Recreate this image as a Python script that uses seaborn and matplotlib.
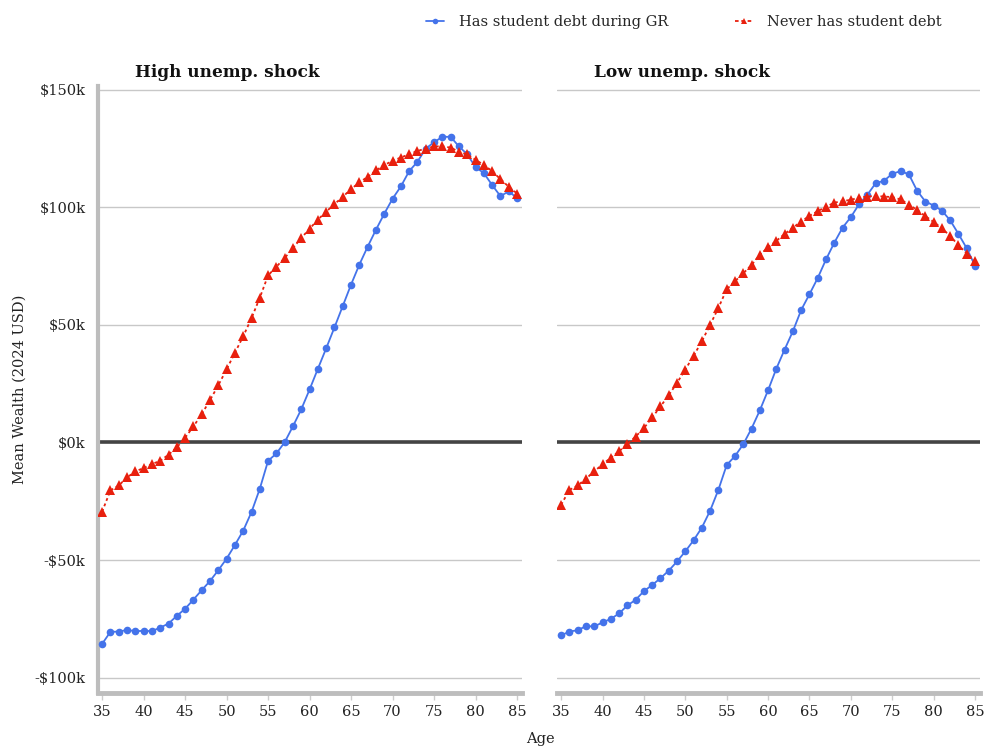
import numpy as np
import pandas as pd
import matplotlib
matplotlib.use("Agg")
import matplotlib.pyplot as plt
import seaborn as sns
from matplotlib.ticker import FuncFormatter
from matplotlib.lines import Line2D

sns.set_style("white")
plt.rcParams['font.family'] = ['DejaVu Serif']

ages = list(range(35, 86))
panels = ["High unemp. shock", "Low unemp. shock"]
series = ["Has student debt during GR", "Never has student debt"]

high_debt = [-85.6, -80.5, -80.4, -79.7, -80.2, -80.1, -80.2, -78.7, -77.0, -73.7,
             -70.7, -66.8, -62.8, -58.9, -54.3, -49.4, -43.6, -37.5, -29.6, -19.7,
             -7.8, -4.7, 0.1, 6.9, 14.1, 22.5, 31.3, 40.0, 48.9, 58.0,
             67.1, 75.6, 83.2, 90.4, 97.2, 103.6, 108.8, 115.3, 119.3, 124.9,
             127.6, 129.9, 129.9, 125.8, 122.5, 117.0, 114.5, 109.4, 104.7, 106.7, 103.9]
high_never = [-29.4, -20.4, -18.3, -14.9, -12.3, -10.9, -9.2, -7.8, -5.2, -2.1,
              2.0, 6.8, 12.0, 18.0, 24.3, 31.1, 38.1, 45.1, 52.8, 61.5,
              71.0, 74.7, 78.4, 82.6, 86.9, 90.8, 94.7, 98.1, 101.3, 104.4,
              107.7, 110.5, 112.9, 115.6, 117.9, 119.7, 121.1, 122.5, 123.9, 124.9,
              125.8, 125.9, 125.3, 123.6, 122.4, 120.1, 118.0, 115.3, 111.9, 108.7, 105.8]
low_debt = [-82.0, -80.4, -79.8, -78.1, -78.2, -76.5, -75.0, -72.7, -69.3, -66.9,
            -63.2, -60.6, -57.7, -54.5, -50.6, -46.3, -41.6, -36.2, -29.0, -20.1,
            -9.6, -5.8, -0.8, 5.9, 13.6, 22.2, 31.4, 39.5, 47.3, 56.3,
            63.0, 69.9, 77.8, 84.9, 91.3, 95.8, 101.3, 105.3, 110.2, 111.2,
            114.2, 115.3, 114.0, 107.0, 102.4, 100.7, 98.5, 94.4, 88.6, 82.5, 75.1]
low_never = [-26.5, -20.2, -18.3, -15.4, -12.3, -9.3, -6.5, -3.8, -0.6, 2.5,
             6.1, 10.6, 15.3, 20.1, 25.3, 31.0, 36.8, 43.0, 50.0, 57.2,
             65.1, 68.5, 71.9, 75.4, 79.8, 82.9, 85.7, 88.6, 91.3, 93.9,
             96.3, 98.3, 100.2, 101.9, 102.6, 103.1, 104.1, 104.5, 104.8, 104.5,
             104.3, 103.3, 101.1, 98.8, 96.2, 93.7, 91.0, 87.7, 83.8, 80.3, 77.2]

x_ticks = [35, 40, 45, 50, 55, 60, 65, 70, 75, 80, 85]
y_ticks = [-100000, -50000, 0, 50000, 100000, 150000]

rows = []
for panel, d, n in [(panels[0], high_debt, high_never), (panels[1], low_debt, low_never)]:
    for a, v in zip(ages, d):
        rows.append((panel, series[0], a, v * 1000))
    for a, v in zip(ages, n):
        rows.append((panel, series[1], a, v * 1000))
df = pd.DataFrame(rows, columns=["panel", "series", "age", "wealth"])

BLUE = "#4473EA"
RED = "#E8200E"
palette = {series[0]: BLUE, series[1]: RED}
markers = {series[0]: "o", series[1]: "^"}

fig = plt.figure(figsize=(9.84, 7.47), dpi=100)
bottom = 1 - 693 / 747
top = 1 - 86 / 747
axL = fig.add_axes([98 / 984, bottom, 424 / 984, top - bottom])
axR = fig.add_axes([557 / 984, bottom, 423 / 984, top - bottom])

fmt = FuncFormatter(lambda v, p: ("-" if v < 0 else "") + "$%dk" % abs(round(v / 1000)))

for ax, panel in zip([axL, axR], panels):
    sub = df[df.panel == panel]
    for s in series:
        ss = sub[sub.series == s]
        sns.lineplot(data=ss, x="age", y="wealth", ax=ax, color=palette[s],
                     marker=markers[s], markersize=5.5 if s == series[0] else 6.5,
                     markeredgewidth=0, linewidth=1.3,
                     linestyle="-" if s == series[0] else (0, (1.6, 1.6)),
                     label=s, legend=False, zorder=3)
    ax.set_xlim(34.5, 85.6)
    ax.set_ylim(-106500, 151500)
    ax.set_yticks(y_ticks)
    ax.set_xticks(x_ticks)
    ax.yaxis.set_major_formatter(fmt)
    ax.grid(axis="y", color="#c8c8c8", linewidth=1.0)
    ax.axhline(0, color="#444444", linewidth=2.6, zorder=2)
    ax.set_xlabel("")
    ax.set_ylabel("")
    for sp in ["top", "right"]:
        ax.spines[sp].set_visible(False)
    ax.spines["bottom"].set_color("#bdbdbd")
    ax.spines["bottom"].set_linewidth(3.5)
    ax.tick_params(axis="x", length=5, width=1, color="#cccccc", labelsize=10.5,
                   labelcolor="#222222", pad=4, direction="out", bottom=True)
    ax.tick_params(axis="y", length=0, labelsize=10.5, labelcolor="#222222", pad=9)
    ax.text(0.087, 1.008, panel, transform=ax.transAxes, fontsize=12.2,
            fontweight="bold", color="#111111", va="bottom", ha="left")

axL.spines["left"].set_color("#bdbdbd")
axL.spines["left"].set_linewidth(3)
axR.spines["left"].set_visible(False)
axR.tick_params(axis="y", labelleft=False)

axL.set_ylabel("Mean Wealth (2024 USD)", fontsize=10.5, color="#222222", labelpad=6)
fig.text(540 / 984, 1 - 739 / 747, "Age", ha="center", va="center", fontsize=10.5, color="#222222")

handles = [Line2D([], [], color=BLUE, marker="o", markersize=4, markeredgewidth=0, linewidth=1.3),
           Line2D([], [], color=RED, marker="^", markersize=5, markeredgewidth=0, linewidth=1.3,
                  linestyle=(0, (2, 1.5)))]
fig.legend(handles, series, loc="center", bbox_to_anchor=(684 / 984, 1 - 22 / 747), ncol=2,
           frameon=False, fontsize=10.5, handlelength=1.2, columnspacing=4.6, handletextpad=1.0)

fig.savefig("out.png", dpi=100)
